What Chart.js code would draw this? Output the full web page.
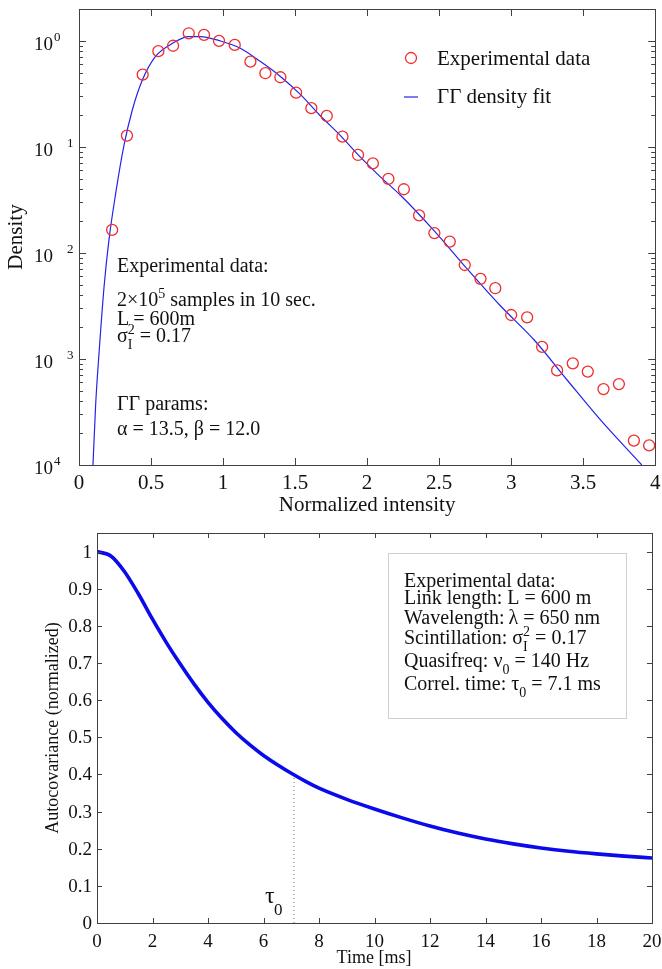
<!DOCTYPE html>
<html>
<head>
<meta charset="utf-8">
<script src="https://cdn.jsdelivr.net/npm/chart.js@4.4.1/dist/chart.umd.min.js"></script>
<style>
  body { margin: 0; background: #fff; }
  #wrap { position: relative; width: 662px; height: 969px; }
  canvas { position: absolute; left: 0; }
  #densityChart { top: 0; }
  #acovChart { top: 520px; }
</style>
</head>
<body>
<div id="wrap">
  <canvas id="densityChart" width="662" height="520"></canvas>
  <canvas id="acovChart" width="662" height="449"></canvas>
</div>
<script>
const SERIF = "'Liberation Serif', 'Times New Roman', Times, serif"
const AXIS = '#404040'
const INK = '#111'
const RED = 'rgb(240,45,45)'
const BLUE = 'rgb(35,35,235)'

// top panel: histogram of normalized intensity (bin centre -> density)
const INTENSITY = [0.23, 0.333, 0.442, 0.551, 0.653, 0.762, 0.868, 0.972, 1.081, 1.19, 1.294, 1.398,
    1.507, 1.613, 1.72, 1.829, 1.937, 2.04, 2.148, 2.255, 2.361, 2.467, 2.574, 2.678, 2.787, 2.89,
    3.0, 3.111, 3.215, 3.319, 3.428, 3.532, 3.641, 3.748, 3.852, 3.958]
const DENSITY = [0.0165, 0.128, 0.481, 0.80, 0.90, 1.18, 1.14, 1.0, 0.917, 0.638, 0.496, 0.454,
    0.325, 0.232, 0.196, 0.125, 0.084, 0.070, 0.0499, 0.0399, 0.0226, 0.0154, 0.0128, 0.0077, 0.0057, 0.00465,
    0.0026, 0.00247, 0.0013, 0.00078, 0.00091, 0.00076, 0.00052, 0.00058, 0.00017, 0.000153]
// Gamma-Gamma fit, alpha 13.5 / beta 12.0
const FIT_I = [0.097, 0.116, 0.139, 0.174, 0.208, 0.255, 0.31, 0.37, 0.44, 0.53, 0.65, 0.76, 0.84,
    0.98, 1.12, 1.26, 1.40, 1.54, 1.67, 1.81, 1.95, 2.09, 2.23, 2.46, 2.69, 2.92, 3.16, 3.39, 3.62, 3.907]
const FIT_P = [1e-4, 3.8e-4, 1.13e-3, 4.8e-3, 0.0133, 0.0366, 0.10, 0.223, 0.428, 0.711, 0.95, 1.10, 1.10,
    1.0, 0.853, 0.638, 0.46, 0.31, 0.20, 0.13, 0.081, 0.0525, 0.0352, 0.0165, 0.00718, 0.00323, 0.00151,
    6.3e-4, 2.66e-4, 1e-4]
const I_TICKS = [0, 0.5, 1, 1.5, 2, 2.5, 3, 3.5, 4]
const I_TICK_LABELS = ['0', '0.5', '1', '1.5', '2', '2.5', '3', '3.5', '4']
const P_TICKS = [1, 1e-1, 1e-2, 1e-3, 1e-4]
const P_TICK_EXP = ['0', '\u20031', '\u20032', '\u20033', '4']

// bottom panel: normalized autocovariance vs time lag
const LAG_MS = [0, 0.5, 1, 1.5, 2, 2.5, 3, 3.5, 4, 4.5, 5, 5.5, 6, 6.5, 7, 7.5, 8, 9, 10, 11, 12, 13, 14,
    15, 16, 17, 18, 19, 20]
const ACOV = [1.0, 0.988, 0.945, 0.885, 0.818, 0.755, 0.697, 0.643, 0.594, 0.551, 0.513, 0.480, 0.451,
    0.426, 0.403, 0.382, 0.363, 0.333, 0.307, 0.283, 0.261, 0.242, 0.226, 0.213, 0.202, 0.193, 0.186, 0.180, 0.175]
const TAU0 = 7.1
const TAU0_ACOV = 0.399
const T_TICKS = [0, 2, 4, 6, 8, 10, 12, 14, 16, 18, 20]
const A_TICKS = [0, 0.1, 0.2, 0.3, 0.4, 0.5, 0.6, 0.7, 0.8, 0.9, 1]
const A_TICK_LABELS = ['0', '0.1', '0.2', '0.3', '0.4', '0.5', '0.6', '0.7', '0.8', '0.9', '1']

function zip(xs, ys){
    return xs.map((x, i) => ({x: x, y: ys[i]}))
}

function font(size){
    return size + 'px ' + SERIF
}

// text run with sub/superscripts; a part with stack:true sits under the previous one
function richText(ctx, x, y, parts, size){
    let cx = x, lastX = x
    ctx.textAlign = 'left'
    ctx.textBaseline = 'alphabetic'
    parts.forEach(p => {
        const small = p.sup || p.sub
        ctx.font = font(small ? Math.round(size * 0.68) : size)
        const dy = p.sup ? -size * 0.42 : (p.sub ? size * 0.33 : 0)
        const px = p.stack ? lastX : cx
        ctx.fillText(p.t, px, y + dy)
        lastX = px
        cx = Math.max(cx, px + ctx.measureText(p.t).width)
    })
}

// matlab style box: frame plus inward ticks on all four sides
function boxTicks(chart, xTicks, yTicks, len){
    const { ctx, chartArea: a, scales } = chart
    ctx.save()
    ctx.strokeStyle = AXIS
    ctx.lineWidth = 1
    ctx.beginPath()
    xTicks.forEach(v => {
        const px = Math.round(scales.x.getPixelForValue(v)) + 0.5
        ctx.moveTo(px, a.bottom); ctx.lineTo(px, a.bottom - len)
        ctx.moveTo(px, a.top); ctx.lineTo(px, a.top + len)
    })
    yTicks.forEach(([v, l]) => {
        const py = Math.round(scales.y.getPixelForValue(v)) + 0.5
        ctx.moveTo(a.left, py); ctx.lineTo(a.left + l, py)
        ctx.moveTo(a.right, py); ctx.lineTo(a.right - l, py)
    })
    ctx.stroke()
    ctx.strokeRect(Math.round(a.left) + 0.5, Math.round(a.top) + 0.5,
        Math.round(a.right - a.left), Math.round(a.bottom - a.top))
    ctx.restore()
}

const densityAxes = {
    id: 'densityAxes',
    afterDraw(chart){
        const { ctx, chartArea: a, scales: { x, y } } = chart
        // major decades + minor 2..9 ticks
        let yt = P_TICKS.map(v => [v, 7])
        P_TICKS.forEach(d => {
            for (let m = 2; m <= 9; m++){
                if (d * m < 2) yt.push([d * m, 4])
            }
        })
        boxTicks(chart, I_TICKS, yt, 7)

        ctx.save()
        ctx.fillStyle = INK
        ctx.textAlign = 'center'
        ctx.textBaseline = 'alphabetic'
        ctx.font = font(21)
        I_TICKS.forEach((v, i) => ctx.fillText(I_TICK_LABELS[i], x.getPixelForValue(v), 489))
        P_TICKS.forEach((v, i) => {
            const py = y.getPixelForValue(v)
            ctx.textAlign = 'right'
            ctx.font = font(19)
            ctx.fillText('10', 53, py + 9)
            ctx.textAlign = 'left'
            ctx.font = font(13)
            ctx.fillText(P_TICK_EXP[i], 54, py)
        })
        ctx.textAlign = 'center'
        ctx.font = font(21)
        ctx.fillText('Normalized intensity', (a.left + a.right) / 2, 511)
        ctx.save()
        ctx.translate(22, (a.top + a.bottom) / 2)
        ctx.rotate(-Math.PI / 2)
        ctx.fillText('Density', 0, 0)
        ctx.restore()

        // legend
        const ds = chart.data.datasets
        ctx.strokeStyle = ds[0].borderColor
        ctx.lineWidth = ds[0].pointBorderWidth
        ctx.beginPath()
        ctx.arc(411, 58, ds[0].pointRadius, 0, Math.PI * 2)
        ctx.stroke()
        ctx.strokeStyle = ds[1].borderColor
        ctx.lineWidth = ds[1].borderWidth
        ctx.beginPath()
        ctx.moveTo(404, 97); ctx.lineTo(418, 97)
        ctx.stroke()
        ctx.textAlign = 'left'
        ctx.font = font(21)
        ctx.fillText(ds[0].label, 437, 65)
        ctx.fillText(ds[1].label, 437, 103)

        // measurement notes
        const fs = 20
        richText(ctx, 117, 272, [{t: 'Experimental data:'}], fs)
        richText(ctx, 117, 306, [{t: '2\u00d710'}, {t: '5', sup: true}, {t: ' samples in 10 sec.'}], fs)
        richText(ctx, 117, 325, [{t: 'L'}, {t: '\u2009= 600m'}], fs)
        richText(ctx, 117, 342, [{t: '\u03c3'}, {t: '2', sup: true}, {t: 'I', sub: true, stack: true}, {t: ' = 0.17'}], fs)
        richText(ctx, 117, 410, [{t: '\u0393\u0393 params:'}], fs)
        richText(ctx, 117, 435, [{t: '\u03b1 = 13.5, \u03b2 = 12.0'}], fs)
        ctx.restore()
    }
}

new Chart(document.getElementById('densityChart'), {
    type: 'scatter',
    data: {
        datasets: [{
            label: 'Experimental data',
            data: zip(INTENSITY, DENSITY),
            showLine: false,
            pointStyle: 'circle',
            pointRadius: 5.5,
            pointBorderWidth: 1.3,
            borderColor: RED,
            backgroundColor: 'rgba(0,0,0,0)'
        },
        {
            label: '\u0393\u0393 density fit',
            data: zip(FIT_I, FIT_P),
            showLine: true,
            pointRadius: 0,
            borderColor: BLUE,
            borderWidth: 1.2,
            tension: 0.4,
            cubicInterpolationMode: 'monotone'
        }]
    },
    options: {
        responsive: false,
        animation: false,
        layout: { padding: { left: 0, right: 6, top: 9, bottom: 0 } },
        plugins: { legend: { display: false }, tooltip: { enabled: false } },
        scales: {
            x: {
                type: 'linear', min: 0, max: 4,
                grid: { display: false }, border: { display: false }, ticks: { display: false },
                afterFit: s => { s.height = 55 }
            },
            y: {
                type: 'logarithmic', min: 1e-4, max: 2,
                grid: { display: false }, border: { display: false }, ticks: { display: false },
                afterFit: s => { s.width = 79 }
            }
        }
    },
    plugins: [densityAxes]
})

const acovAxes = {
    id: 'acovAxes',
    afterDraw(chart){
        const { ctx, chartArea: a, scales: { x, y } } = chart
        boxTicks(chart, T_TICKS, A_TICKS.map(v => [v, 5]), 5)

        ctx.save()
        ctx.fillStyle = INK
        ctx.textBaseline = 'alphabetic'
        ctx.font = font(19)
        ctx.textAlign = 'center'
        T_TICKS.forEach(v => ctx.fillText(String(v), x.getPixelForValue(v), 427))
        ctx.textAlign = 'right'
        A_TICKS.forEach((v, i) => ctx.fillText(A_TICK_LABELS[i], a.left - 5, y.getPixelForValue(v) + 6))

        ctx.textAlign = 'center'
        ctx.font = font(18)
        ctx.fillText('Time [ms]', 374, 443)
        ctx.save()
        ctx.translate(58, (a.top + a.bottom) / 2)
        ctx.rotate(-Math.PI / 2)
        ctx.fillText('Autocovariance (normalized)', 0, 0)
        ctx.restore()

        // tau0 marker label
        richText(ctx, 265, 383, [{t: '\u03c4'}], 24)
        ctx.font = font(17)
        ctx.textAlign = 'left'
        ctx.fillText('0', 274, 395)

        // parameter box
        ctx.fillStyle = '#fff'
        ctx.fillRect(388, 33, 239, 166)
        ctx.strokeStyle = '#cfcfcf'
        ctx.lineWidth = 1
        ctx.strokeRect(388.5, 33.5, 238, 165)
        ctx.fillStyle = INK
        const fs = 20, bx = 404
        richText(ctx, bx, 67, [{t: 'Experimental data:'}], fs)
        richText(ctx, bx, 84, [{t: 'Link length: L = 600 m'}], fs)
        richText(ctx, bx, 104, [{t: 'Wavelength:\u2009\u03bb = 650 nm'}], fs)
        richText(ctx, bx, 124, [{t: 'Scintillation: \u03c3'}, {t: '2', sup: true}, {t: 'I', sub: true, stack: true}, {t: ' = 0.17'}], fs)
        richText(ctx, bx, 147, [{t: 'Quasifreq: \u03bd'}, {t: '0', sub: true}, {t: ' = 140 Hz'}], fs)
        richText(ctx, bx, 170, [{t: 'Correl. time: \u03c4'}, {t: '0', sub: true}, {t: ' = ' + TAU0 + ' ms'}], fs)
        ctx.restore()
    }
}

new Chart(document.getElementById('acovChart'), {
    type: 'scatter',
    data: {
        datasets: [{
            label: 'Autocovariance',
            data: zip(LAG_MS, ACOV),
            showLine: true,
            pointRadius: 0,
            borderColor: 'rgb(10,10,235)',
            borderWidth: 3.6,
            tension: 0.4,
            cubicInterpolationMode: 'monotone'
        },
        {
            label: 'tau0',
            data: zip([TAU0, TAU0], [0, TAU0_ACOV]),
            showLine: true,
            pointRadius: 0,
            borderColor: '#777',
            borderWidth: 1,
            borderDash: [1, 3]
        }]
    },
    options: {
        responsive: false,
        animation: false,
        layout: { padding: { left: 0, right: 10, top: 13, bottom: 0 } },
        plugins: { legend: { display: false }, tooltip: { enabled: false } },
        scales: {
            x: {
                type: 'linear', min: 0, max: 20,
                grid: { display: false }, border: { display: false }, ticks: { display: false },
                afterFit: s => { s.height = 46 }
            },
            y: {
                type: 'linear', min: 0, max: 1.05,
                grid: { display: false }, border: { display: false }, ticks: { display: false },
                afterFit: s => { s.width = 97 }
            }
        }
    },
    plugins: [acovAxes]
})
</script>
</body>
</html>
